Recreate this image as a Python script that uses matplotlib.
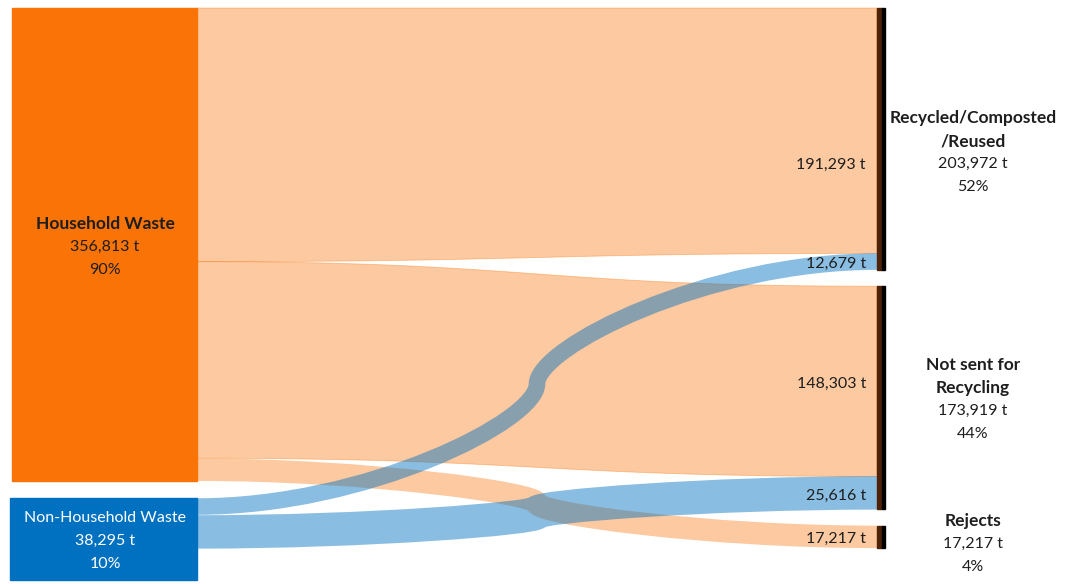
import numpy as np
import matplotlib.pyplot as plt
from matplotlib.path import Path
from matplotlib.patches import PathPatch, Polygon, Rectangle

# sources / targets and flows (tonnes)
sources = ['Household Waste', 'Non-Household Waste']
source_pct = ['90%', '10%']
targets = ['Recycled/Composted\n/Reused', 'Not sent for\nRecycling', 'Rejects']
target_pct = ['52%', '44%', '4%']
flow_src = [0, 0, 0, 1, 1]
flow_dst = [0, 1, 2, 0, 1]
flow_val = [191293, 148303, 17217, 12679, 25616]

src_colors = ['#F97306', '#0070C0']
link_alpha = [0.38, 0.46]

# layout (pixel-like units)
x_left0, x_left1 = 11, 197
x_right0 = 877
scale_l = 0.001326
scale_r = 0.001283
top = 8
gap_l = 17
gap_r = 16.5
min_node_h = 82
DPI = 100

src_tot = [sum(v for s, v in zip(flow_src, flow_val) if s == i) for i in range(len(sources))]
dst_tot = [sum(v for d, v in zip(flow_dst, flow_val) if d == j) for j in range(len(targets))]

fig = plt.figure(figsize=(10.66, 5.84), dpi=DPI)
ax = fig.add_axes([0, 0, 1, 1])
ax.set_xlim(0, 1066)
ax.set_ylim(584, 0)
ax.axis('off')
plt.rcParams['font.family'] = ['Lato', 'DejaVu Sans']
txt_col = '#1e1e1e'
fs = 11.5
fsb = 12.5

# node positions
src_y = []
y = top
for i, t in enumerate(src_tot):
    h = max(t * scale_l, min_node_h) if i > 0 else t * scale_l
    src_y.append((y, y + h))
    y += h + gap_l
dst_y = []
y = top
for t in dst_tot:
    h = t * scale_r
    dst_y.append((y, y + h))
    y += h + gap_r

x0, x1 = x_left1, x_right0
xm = (x0 + x1) / 2


def flat_band(l0, l1, r0, r1):
    # nearly horizontal wide band: fill between two smooth edges
    t = np.linspace(0, 1, 200)
    b = [(1 - t) ** 3, 3 * (1 - t) ** 2 * t, 3 * (1 - t) * t ** 2, t ** 3]
    px = [x0, xm, xm, x1]
    bx = sum(c * p for c, p in zip(b, px))
    s = b[2] + b[3]
    top_e = l0 + (r0 - l0) * s
    bot_e = l1 + (r1 - l1) * s
    return np.vstack([np.column_stack([bx, top_e]), np.column_stack([bx, bot_e])[::-1]])


def s_path(yl, yr, h=0.5, v=0.3):
    # centre line made of two halves meeting with a vertical tangent
    ym = (yl + yr) / 2
    verts = [(x0, yl), (x0 + h * (xm - x0), yl), (xm, ym + v * (yl - ym)), (xm, ym),
             (xm, ym + v * (yr - ym)), (x1 - h * (x1 - xm), yr), (x1, yr)]
    codes = [Path.MOVETO] + [Path.CURVE4] * 6
    return Path(verts, codes)


# links
src_cursor = [a for a, b in src_y]
dst_cursor = [a for a, b in dst_y]
link_right = []
for s, d, v in zip(flow_src, flow_dst, flow_val):
    l0 = src_cursor[s]
    l1 = l0 + v * scale_l
    r0 = dst_cursor[d]
    r1 = r0 + v * scale_r
    src_cursor[s] = l1
    dst_cursor[d] = r1
    link_right.append((r0, r1))
    yl, yr = (l0 + l1) / 2, (r0 + r1) / 2
    w = ((l1 - l0) + (r1 - r0)) / 2
    if abs(yr - yl) < w / 2:
        ax.add_patch(Polygon(flat_band(l0, l1, r0, r1), closed=True, facecolor=src_colors[s],
                             edgecolor=src_colors[s], lw=0.6, alpha=link_alpha[s], zorder=1 + s))
    else:
        ax.add_patch(PathPatch(s_path(yl, yr), fill=False, edgecolor=src_colors[s],
                               lw=w * 72 / DPI, capstyle='butt', joinstyle='round',
                               alpha=link_alpha[s], zorder=1 + s))

# source nodes
for i, (a, b) in enumerate(src_y):
    xa = x_left0 + (1 if i == 0 else -1)
    ax.add_patch(Rectangle((xa, a), x_left1 - xa, b - a, color=src_colors[i], zorder=5))
    cy = (a + b) / 2 + 2
    c = txt_col if i == 0 else 'white'
    wt = 'bold' if i == 0 else 'normal'
    xc = (x_left0 + x_left1) / 2 + 1
    ax.text(xc, cy - 23, sources[i], ha='center', va='center',
            fontsize=fsb if i == 0 else fs, fontweight=wt, color=c, zorder=6)
    ax.text(xc, cy, f'{src_tot[i]:,} t', ha='center', va='center',
            fontsize=fs, color=c, zorder=6)
    ax.text(xc, cy + 23, source_pct[i], ha='center', va='center',
            fontsize=fs, color=c, zorder=6)

# target nodes
label_shift = [14, 2, 7]
for j, (a, b) in enumerate(dst_y):
    ax.add_patch(Rectangle((x_right0, a), 5, b - a, color='#4d2206', zorder=5))
    ax.add_patch(Rectangle((x_right0 + 5, a), 3, b - a, color='black', zorder=5))
    lines = targets[j].split('\n')
    n = len(lines) + 2
    cy = (a + b) / 2 + label_shift[j]
    ys = [cy + (k - (n - 1) / 2) * 23 for k in range(n)]
    for k, ln in enumerate(lines):
        ax.text(973, ys[k], ln, ha='center', va='center', fontsize=fsb,
                fontweight='bold', color=txt_col)
    ax.text(973, ys[-2], f'{dst_tot[j]:,} t', ha='center', va='center', fontsize=fs, color=txt_col)
    ax.text(973, ys[-1], target_pct[j], ha='center', va='center', fontsize=fs, color=txt_col)

# flow value labels
val_shift = [32, 0, 0, 0, 0]
for k, ((r0, r1), v) in enumerate(zip(link_right, flow_val)):
    ax.text(866, (r0 + r1) / 2 + val_shift[k] + 2.5, f'{v:,} t', ha='right', va='center',
            fontsize=fs, color=txt_col, zorder=7)

fig.savefig('out.png', dpi=DPI)
